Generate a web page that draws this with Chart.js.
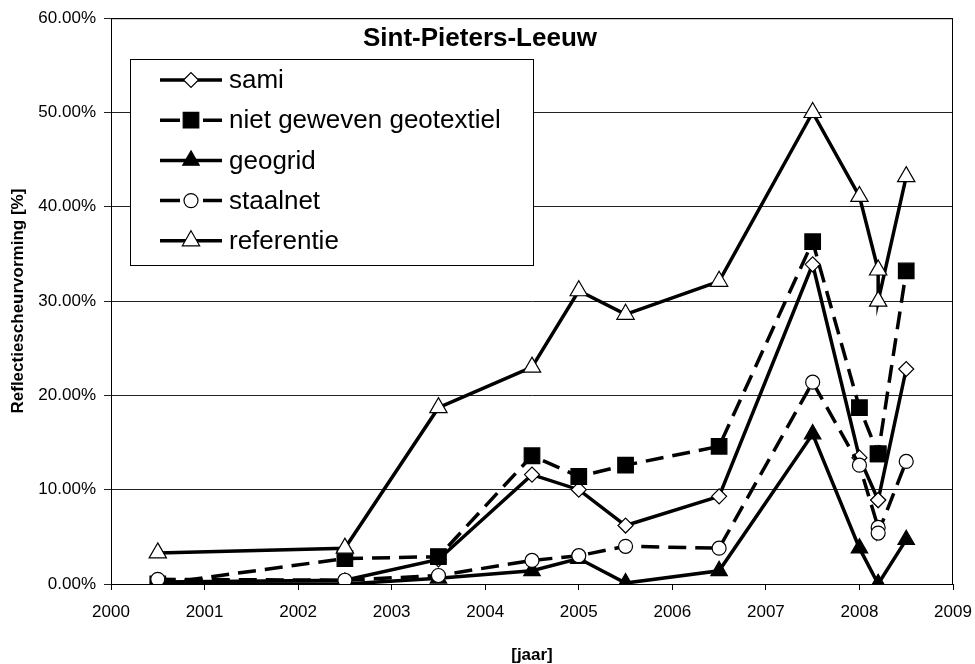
<!DOCTYPE html>
<html>
<head>
<meta charset="utf-8">
<script src="https://cdn.jsdelivr.net/npm/chart.js"></script>
<style>
  body { margin: 0; background: #fff; }
  #chart { display: block; }
</style>
</head>
<body>
<canvas id="chart" width="975" height="664"></canvas>
<script>
// jaar (x) en reflectiescheurvorming in %
const years = [2000.5, 2002.5, 2003.5, 2004.5, 2005, 2005.5, 2006.5, 2007.5, 2008, 2008.2, 2008.2, 2008.5];

const sami = [0.2, 0.4, 2.6, 11.6, 10.0, 6.2, 9.3, 33.9, 13.4, 8.9, 8.9, 22.8];
const nietGeweven = [0.0, 2.7, 2.9, 13.6, 11.4, 12.6, 14.6, 36.3, 18.7, 13.8, 13.8, 33.2];
const geogrid = [0.0, 0.0, 0.6, 1.4, 2.7, 0.1, 1.4, 15.9, 3.8, 0.0, 0.0, 4.7];
const staalnet = [0.5, 0.4, 0.9, 2.5, 3.0, 4.0, 3.8, 21.4, 12.6, 6.0, 5.4, 13.0];
const referentie = [3.3, 3.8, 18.7, 23.0, 31.1, 28.6, 32.1, 50.0, 41.1, 33.3, 30.0, 43.2];

const seriesNames = ['sami', 'niet geweven geotextiel', 'geogrid', 'staalnet', 'referentie'];
const xTicks = [2000, 2001, 2002, 2003, 2004, 2005, 2006, 2007, 2008, 2009];
const yTicks = [0, 10, 20, 30, 40, 50, 60];

const chartTitle = 'Sint-Pieters-Leeuw';
const FONT = '"Liberation Sans", Arial, sans-serif';

Chart.defaults.color = '#000';
Chart.defaults.font.family = FONT;

const pts = vals => vals.map((v, i) => ({ x: years[i], y: v }));

function makeSet(label, vals, style, radius, fill, dashed, order) {
    return {
        label: label,
        data: pts(vals),
        borderColor: '#000',
        borderWidth: 3.5,
        borderDash: dashed ? [18, 9] : [],
        pointStyle: style,
        pointRadius: radius,
        pointHoverRadius: radius,
        pointBackgroundColor: fill,
        pointBorderColor: '#000',
        pointBorderWidth: 1.2,
        tension: 0,
        fill: false,
        order: order
    };
}

const datasets = [
    makeSet(seriesNames[0], sami, 'rectRot', 7.5, '#fff', false, 5),
    makeSet(seriesNames[1], nietGeweven, 'rect', 11, '#000', true, 4),
    makeSet(seriesNames[2], geogrid, 'triangle', 9.5, '#000', false, 3),
    makeSet(seriesNames[3], staalnet, 'circle', 7, '#fff', true, 2),
    makeSet(seriesNames[4], referentie, 'triangle', 10, '#fff', false, 1)
];

// kader rond plotgebied
const frame = {
    id: 'frame',
    beforeDatasetsDraw(chart) {
        const { ctx, chartArea: a } = chart;
        ctx.save();
        ctx.strokeStyle = '#000';
        ctx.lineWidth = 1;
        ctx.strokeRect(a.left + 0.5, a.top + 0.5, a.right - a.left - 1, a.bottom - a.top);
        ctx.restore();
    }
};

// titel en legende binnen het plotgebied
const overlay = {
    id: 'overlay',
    afterDatasetsDraw(chart) {
        const ctx = chart.ctx;
        ctx.save();

        ctx.font = 'bold 26px ' + FONT;
        ctx.fillStyle = '#000';
        ctx.textAlign = 'center';
        ctx.textBaseline = 'middle';
        ctx.fillText(chartTitle, 480, 39);

        ctx.fillStyle = '#fff';
        ctx.fillRect(130, 59, 403, 206);
        ctx.strokeStyle = '#000';
        ctx.lineWidth = 1;
        ctx.strokeRect(130.5, 59.5, 403, 206);

        ctx.font = '26px ' + FONT;
        ctx.textAlign = 'left';
        datasets.forEach((ds, i) => {
            const y = 80 + i * 40.2;
            ctx.strokeStyle = '#000';
            ctx.lineWidth = 3.5;
            ctx.setLineDash([]);
            ctx.beginPath();
            if (ds.borderDash.length) {
                ctx.moveTo(160, y); ctx.lineTo(180, y);
                ctx.moveTo(203, y); ctx.lineTo(222, y);
            } else {
                ctx.moveTo(160, y); ctx.lineTo(222, y);
            }
            ctx.stroke();
            ctx.fillStyle = ds.pointBackgroundColor;
            ctx.strokeStyle = '#000';
            ctx.lineWidth = ds.pointBorderWidth;
            Chart.helpers.drawPoint(ctx, {
                pointStyle: ds.pointStyle,
                radius: ds.pointRadius,
                rotation: 0,
                borderWidth: ds.pointBorderWidth
            }, 191, y);
            ctx.fillStyle = '#000';
            ctx.fillText(ds.label, 229, y + 1);
        });
        ctx.restore();
    }
};

new Chart(document.getElementById('chart'), {
    type: 'line',
    data: { datasets: datasets },
    options: {
        responsive: false,
        animation: false,
        layout: { padding: { top: 17, right: 22, left: 0, bottom: 0 } },
        plugins: {
            legend: { display: false },
            tooltip: { enabled: false }
        },
        scales: {
            x: {
                type: 'linear',
                min: xTicks[0],
                max: xTicks[xTicks.length - 1],
                afterBuildTicks: s => { s.ticks = xTicks.map(v => ({ value: v })); },
                afterFit: s => { s.height = 80; s.paddingLeft = 0; s.paddingRight = 0; },
                grid: { drawOnChartArea: false, drawTicks: true, tickLength: 6, color: '#000' },
                border: { color: '#000', width: 1 },
                ticks: {
                    padding: 12,
                    font: { size: 17 },
                    callback: v => String(v)
                },
                title: {
                    display: true,
                    text: '[jaar]',
                    font: { size: 17, weight: 'bold' },
                    padding: { top: 0, bottom: -2 }
                }
            },
            y: {
                min: yTicks[0],
                max: yTicks[yTicks.length - 1],
                afterBuildTicks: s => { s.ticks = yTicks.map(v => ({ value: v })); },
                afterFit: s => { s.width = 111; },
                grid: { color: '#222', lineWidth: 1, tickLength: 7 },
                border: { color: '#000', width: 1 },
                ticks: {
                    padding: 8,
                    font: { size: 17 },
                    callback: v => v.toFixed(2) + '%'
                },
                title: {
                    display: true,
                    text: 'Reflectiescheurvorming [%]',
                    font: { size: 17, weight: 'bold' },
                    padding: { top: 8, bottom: 0 }
                }
            }
        }
    },
    plugins: [frame, overlay]
});
</script>
</body>
</html>
